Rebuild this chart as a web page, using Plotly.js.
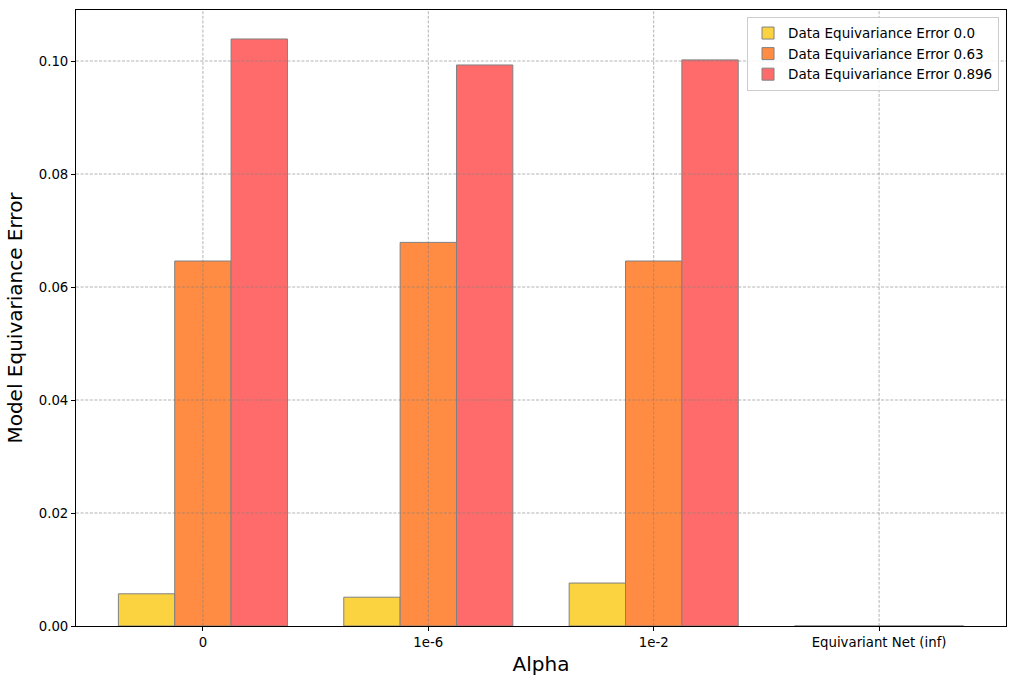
<!DOCTYPE html>
<html>
<head>
<meta charset="utf-8">
<script src="https://cdn.plot.ly/plotly-3.0.1.min.js"></script>
<style>html,body{margin:0;padding:0;background:#fff;}#chart{width:1016px;height:685px;}</style>
</head>
<body>
<div id="chart"></div>
<script>
const categories = ["0", "1e-6", "1e-2", "Equivariant Net (inf)"];
const seriesNames = ["Data Equivariance Error 0.0", "Data Equivariance Error 0.63", "Data Equivariance Error 0.896"];
const errData00 = [0.0057, 0.0051, 0.0076, 0.0];
const errData063 = [0.0646, 0.0679, 0.0646, 0.0];
const errData0896 = [0.1039, 0.0993, 0.1002, 0.0];
const yTicks = [0.00, 0.02, 0.04, 0.06, 0.08, 0.10];
const colors = ["#fbd340", "#ff8c42", "#ff6b6b"];

const xIdx = categories.map((c, i) => i);
const allSeries = [errData00, errData063, errData0896];
const traces = allSeries.map((vals, k) => ({
  type: "bar",
  x: xIdx,
  y: vals,
  name: seriesNames[k],
  marker: {color: colors[k], line: {color: "#808080", width: 1}},
  hoverinfo: "x+y+name"
}));

const gridStyle = {color: "#808080", width: 0.6, dash: "3px,1.6px"};
const shapes = [];
yTicks.forEach(v => {
  if (v > 0) shapes.push({type: "line", xref: "paper", yref: "y", x0: 0, x1: 1, y0: v, y1: v, line: gridStyle, layer: "above"});
});
xIdx.forEach(v => {
  shapes.push({type: "line", xref: "x", yref: "paper", x0: v, x1: v, y0: 0, y1: 1, line: gridStyle, layer: "above"});
});

const font = {family: "DejaVu Sans, sans-serif", size: 13.3, color: "#000"};
const layout = {
  width: 1016, height: 685,
  margin: {l: 76, r: 10, t: 10, b: 59},
  paper_bgcolor: "#fff", plot_bgcolor: "#fff",
  font: font,
  barmode: "group",
  bargap: 0.25,
  bargroupgap: 0,
  showlegend: true,
  legend: {
    x: 0.9925, y: 0.989, xanchor: "right", yanchor: "top",
    bgcolor: "rgba(255,255,255,0.85)", bordercolor: "#cccccc", borderwidth: 1,
    font: {family: "DejaVu Sans, sans-serif", size: 13.5, color: "#000"},
    tracegroupgap: 2
  },
  xaxis: {
    type: "linear",
    range: [-0.563, 3.563],
    tickvals: xIdx, ticktext: categories,
    showgrid: false, zeroline: false,
    showline: true, mirror: true, linecolor: "#000", linewidth: 1,
    ticks: "outside", ticklen: 4, tickcolor: "#000", tickwidth: 1,
    title: {text: "Alpha", font: {family: "DejaVu Sans, sans-serif", size: 20, color: "#000"}, standoff: 8},
    automargin: false
  },
  yaxis: {
    range: [0, 0.10903],
    tickvals: yTicks, tickformat: ".2f",
    showgrid: false, zeroline: false,
    showline: true, mirror: true, linecolor: "#000", linewidth: 1,
    ticks: "outside", ticklen: 4, tickcolor: "#000", tickwidth: 1,
    title: {text: "Model Equivariance Error", font: {family: "DejaVu Sans, sans-serif", size: 20, color: "#000"}, standoff: 10},
    automargin: false
  },
  shapes: shapes
};
Plotly.newPlot("chart", traces, layout, {displayModeBar: false, staticPlot: true});
</script>
</body>
</html>
